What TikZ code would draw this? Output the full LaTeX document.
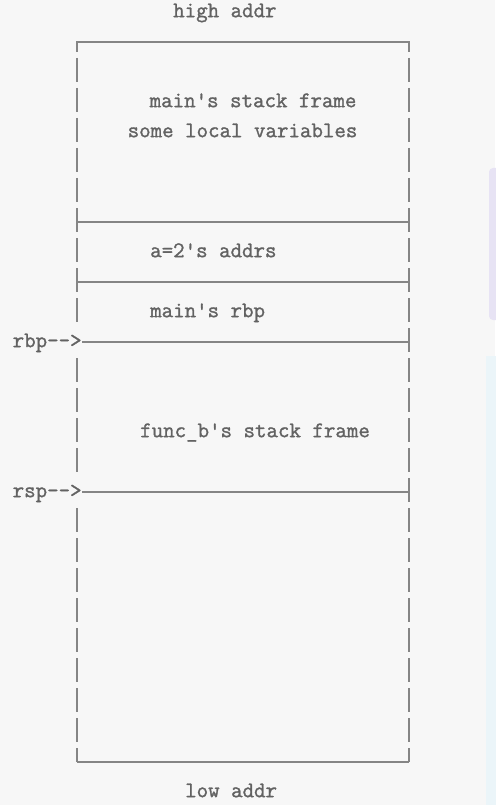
\documentclass[tikz,border=0pt]{standalone}
\usepackage{fontspec}
\newfontfamily\stackmono{Latin Modern Mono}[FakeBold=1.3]
\begin{document}
\begin{tikzpicture}[x=1pt,y=-1pt,
  lbl/.style={font=\stackmono\fontsize{22.3}{23}\selectfont, text=txtgrey, inner sep=0pt, anchor=base west},
  rule/.style={draw=linegrey, line width=1.7pt},
  bar/.style={draw=linegrey, line width=1.9pt}]
\definecolor{bg}{HTML}{F7F7F7}
\definecolor{txtgrey}{HTML}{626262}
\definecolor{linegrey}{HTML}{858585}
\definecolor{panelpurple}{HTML}{E7E3F4}
\definecolor{panelcyan}{HTML}{EBF5F9}
\useasboundingbox (0,0) rectangle (495,805);
\fill[bg] (0,0) rectangle (495,805);
% faint side panels
\fill[panelpurple, rounded corners=4pt] (489,168) rectangle (500,320);
\fill[panelcyan] (486,356) rectangle (500,805);
% coordinates of the frame
\def\xl{77}\def\xr{409}
% vertical bars made of '|' segments
\begin{scope}
\clip (0,41.7) rectangle (495,761.7);
\foreach \k in {0,...,24}{
  \pgfmathsetmacro{\ya}{28+30*\k}
  \pgfmathsetmacro{\yb}{52+30*\k}
  \ifnum\k=10 \else\ifnum\k=15 \else
    \draw[bar] (\xl,\ya) -- (\xl,\yb);
  \fi\fi
  \draw[bar] (\xr,\ya) -- (\xr,\yb);
}
\end{scope}
% horizontal rules
\coordinate (tl) at (\xl,41.7); \coordinate (tr) at (\xr,41.7);
\coordinate (al) at (\xl,221.7); \coordinate (ar) at (\xr,221.7);
\coordinate (bl) at (\xl,281.7); \coordinate (br) at (\xr,281.7);
\coordinate (cr) at (\xr,341.7);
\coordinate (dr) at (\xr,491.7);
\coordinate (el) at (\xl,761.7); \coordinate (er) at (\xr,761.7);
\draw[rule] (tl) -- (tr);
\draw[rule] (al) -- (ar);
\draw[rule] (bl) -- (br);
\draw[rule] (el) -- (er);
% texts
\node[lbl] (high) at (173,17.2) {high addr};
\node[lbl] (mainsf) at (149.5,107.2) {main's stack frame};
\node[lbl] (locals) at (127.5,137.2) {some local variables};
\node[lbl] (aaddr) at (150,257.2) {a=2's addrs};
\node[lbl] (mainrbp) at (150,317.2) {main's rbp};
\node[lbl] (funcb) at (140,437.2) {func\_b's stack frame};
\node[lbl] (rbp) at (12.5,347.2) {rbp-->};
\node[lbl] (rsp) at (12.5,497.2) {rsp-->};
\node[lbl] (low) at (185,797.2) {low addr};
\draw[rule] (rbp.east |- cr) -- (cr);
\draw[rule] (rsp.east |- dr) -- (dr);
\end{tikzpicture}
\end{document}
